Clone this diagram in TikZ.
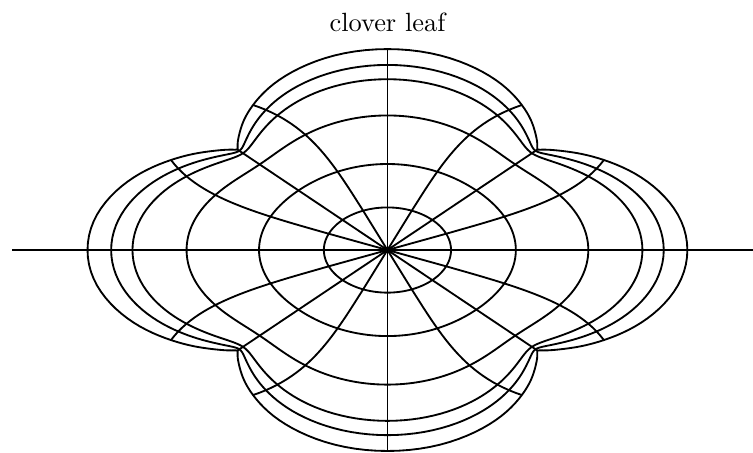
\documentclass[tikz,border=0pt]{standalone}
\usepackage{tikz}
\begin{document}
\begin{tikzpicture}[x=2cm, y=1.34cm, line width=0.7pt,
    declare function={
        hre(\u,\p)=1-0.1666667*\u*cos(\p)+0.0178571*\u^2*cos(2*\p)-0.0056818*\u^3*cos(3*\p)+0.0026042*\u^4*cos(4*\p)-0.0014391*\u^5*cos(5*\p)+0.0008917*\u^6*cos(6*\p)-0.0005968*\u^7*cos(7*\p)+0.0004223*\u^8*cos(8*\p);
        him(\u,\p)=-0.1666667*\u*sin(\p)+0.0178571*\u^2*sin(2*\p)-0.0056818*\u^3*sin(3*\p)+0.0026042*\u^4*sin(4*\p)-0.0014391*\u^5*sin(5*\p)+0.0008917*\u^6*sin(6*\p)-0.0005968*\u^7*sin(7*\p)+0.0004223*\u^8*sin(8*\p);
    }]
    \useasboundingbox (-2.583,-2.01) rectangle (2.437,2.488);

    % Title and axis
    \node (title) at (0,2.27) {clover leaf};
    \coordinate (o) at (0,0);
    \coordinate (west) at (-2.5,0);
    \coordinate (east) at (2.5,0);
    \draw (west) -- (east);

    % Images of the circles
    \foreach \r in {0.25,0.5,0.75,0.9,0.95,1} {
        \pgfmathsetmacro\u{\r^4}
        \draw plot[domain=0:360, samples=289, variable=\s]
            ({\s-atan2(him(\u,4*\s),hre(\u,4*\s))}:{1.69443*\r/veclen(hre(\u,4*\s),him(\u,4*\s))}) -- cycle;
    }

    % Images of the rays
    \foreach \t in {0,22.5,...,337.5}
        \draw (o) -- plot[domain=0.05:1, samples=40, variable=\s]
            ({\t-atan2(him(\s^4,4*\t),hre(\s^4,4*\t))}:{1.69443*\s/veclen(hre(\s^4,4*\t),him(\s^4,4*\t))});
\end{tikzpicture}
\end{document}
